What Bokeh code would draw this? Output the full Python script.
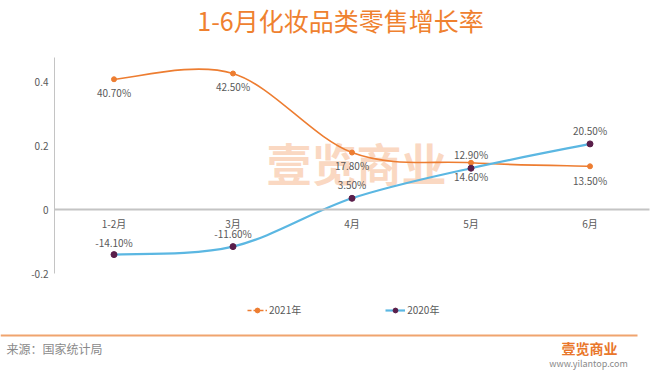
import math
from bokeh.plotting import figure
from bokeh.models import (ColumnDataSource, Range1d, FixedTicker, Label, LinearAxis,
                          BoxAnnotation, Legend, LegendItem)
from bokeh.core.properties import value
from bokeh.embed import file_html
from bokeh.resources import INLINE

# ---------------- data ----------------
months = ["1-2月", "3月", "4月", "5月", "6月"]
growth_2021 = [0.407, 0.425, 0.178, 0.146, 0.135]
growth_2020 = [-0.141, -0.116, 0.035, 0.129, 0.205]
labels_2021 = ["40.70%", "42.50%", "17.80%", "12.90%", "13.50%"]
labels_2020 = ["-14.10%", "-11.60%", "3.50%", "14.60%", "20.50%"]
y_ticks = [-0.2, 0.0, 0.2, 0.4]
y_tick_labels = ["-0.2", "0", "0.2", "0.4"]
series_names = ["2021年", "2020年"]

# ---------------- style ----------------
FONT = "Noto Sans CJK SC"
C21 = "#ED7D31"
C20 = "#5BB7E2"
M20 = "#5A1E4A"
TXT = "#595959"
off_2021 = [13, 13, 13, -8, 14]      # label offsets (px, +down)
off_2020 = [-12, -13, -14, 8, -13]

W, H = 656, 376
X0, CW = 54, 119          # pixel of category axis start, pixel width of one category
Y0, PPU = 209, 320        # pixel of value 0, pixels per unit
xpos = [i + 0.5 for i in range(len(months))]

p = figure(width=W, height=H,
           x_range=Range1d(-X0 / CW, (W - X0) / CW),
           y_range=Range1d((Y0 - H) / PPU, Y0 / PPU),
           x_axis_location=None, y_axis_location=None,
           output_backend="svg", toolbar_location=None,
           min_border_left=0, min_border_right=0, min_border_top=0, min_border_bottom=0)
p.grid.visible = False
p.outline_line_color = None
p.background_fill_color = "white"
p.border_fill_color = "white"

# axes (pinned inside the frame)
xa = LinearAxis(fixed_location=0, bounds=(0, len(months)))
xa.ticker = FixedTicker(ticks=xpos)
xa.major_label_overrides = {x: m for x, m in zip(xpos, months)}
xa.axis_line_color = "#C4C4C4"
xa.axis_line_width = 2
xa.major_tick_line_color = None
xa.minor_tick_line_color = None
xa.major_tick_out = 0
xa.major_label_text_font = FONT
xa.major_label_text_font_size = "10px"
xa.major_label_text_color = TXT
xa.major_label_standoff = 6
p.add_layout(xa, "below")

ya = LinearAxis(fixed_location=0, bounds=(-0.2, 0.475))
ya.ticker = FixedTicker(ticks=y_ticks)
ya.major_label_overrides = {t: s for t, s in zip(y_ticks, y_tick_labels)}
ya.axis_line_color = "#C4C4C4"
ya.axis_line_width = 1
ya.major_tick_line_color = None
ya.minor_tick_line_color = None
ya.major_tick_out = 0
ya.major_label_text_font = FONT
ya.major_label_text_font_size = "10px"
ya.major_label_text_color = TXT
ya.major_label_standoff = 6
p.add_layout(ya, "left")

# page pixel -> screen units (origin bottom-left of frame)
def sx(X):
    return X
def sy(Y):
    return H - Y

# watermark
p.add_layout(Label(x=sx(356), y=sy(162), x_units="screen", y_units="screen",
                   text="壹览商业", text_align="center", text_baseline="middle",
                   text_font=FONT, text_font_size="45px", text_font_style="bold",
                   text_color="#FAD8C2", text_alpha=1.0, level="underlay"))

# smooth curves (Catmull-Rom style bezier through the points)
def bezier_source(xs, ys):
    n = len(ys)
    d = dict(x0=[], y0=[], x1=[], y1=[], cx0=[], cy0=[], cx1=[], cy1=[])
    for i in range(n - 1):
        a = max(i - 1, 0)
        b = min(i + 2, n - 1)
        d["x0"].append(xs[i]); d["y0"].append(ys[i])
        d["x1"].append(xs[i + 1]); d["y1"].append(ys[i + 1])
        d["cx0"].append(xs[i] + (xs[i + 1] - xs[a]) / 6.0)
        d["cy0"].append(ys[i] + (ys[i + 1] - ys[a]) / 6.0)
        d["cx1"].append(xs[i + 1] - (xs[b] - xs[i]) / 6.0)
        d["cy1"].append(ys[i + 1] - (ys[b] - ys[i]) / 6.0)
    return ColumnDataSource(d)

p.bezier(x0="x0", y0="y0", x1="x1", y1="y1", cx0="cx0", cy0="cy0", cx1="cx1", cy1="cy1",
         source=bezier_source(xpos, growth_2021), line_color=C21, line_width=1.6)
p.bezier(x0="x0", y0="y0", x1="x1", y1="y1", cx0="cx0", cy0="cy0", cx1="cx1", cy1="cy1",
         source=bezier_source(xpos, growth_2020), line_color=C20, line_width=2.2)

s21 = ColumnDataSource(dict(x=xpos, y=growth_2021, t=labels_2021, off=off_2021))
s20 = ColumnDataSource(dict(x=xpos, y=growth_2020, t=labels_2020, off=off_2020))
p.scatter(x="x", y="y", source=s21, size=5, fill_color=C21, line_color=C21)
p.scatter(x="x", y="y", source=s20, size=6, fill_color=M20, line_color=M20)
for s in (s21, s20):
    p.text(x="x", y="y", text="t", y_offset="off", source=s,
           text_font=value(FONT), text_font_size="10px", text_color=TXT,
           text_align="center", text_baseline="middle")

# legend (placeholder renderers carry the glyph styling)
nan = [math.nan]
l21 = p.line(x=nan, y=nan, line_color=C21, line_width=1.6, line_dash="4 2")
d21 = p.scatter(x=nan, y=nan, size=4, fill_color=C21, line_color=C21)
l20 = p.line(x=nan, y=nan, line_color=C20, line_width=2.2)
d20 = p.scatter(x=nan, y=nan, size=5, fill_color=M20, line_color=M20)
legend = Legend(items=[LegendItem(label=series_names[0], renderers=[l21, d21]),
                       LegendItem(label=series_names[1], renderers=[l20, d20])],
                orientation="horizontal", location=(sx(247), sy(317)),
                spacing=84, padding=0, margin=0, border_line_color=None,
                background_fill_alpha=0, glyph_width=20, glyph_height=12,
                label_height=12, label_standoff=2,
                label_text_font=FONT, label_text_font_size="10px",
                label_text_color=TXT)
p.add_layout(legend)

# title
p.add_layout(Label(x=sx(340), y=sy(19), x_units="screen", y_units="screen",
                   text="1-6月化妆品类零售增长率", text_align="center", text_baseline="middle",
                   text_font=FONT, text_font_size="25px", text_color="#EF812F"))

# footer
p.add_layout(BoxAnnotation(left=sx(0), right=sx(637), top=sy(334), bottom=sy(336),
                           left_units="screen", right_units="screen",
                           top_units="screen", bottom_units="screen",
                           fill_color="#F0A46E", fill_alpha=1.0, line_color=None))
p.add_layout(Label(x=sx(6), y=sy(348), x_units="screen", y_units="screen",
                   text="来源：国家统计局", text_align="left", text_baseline="middle",
                   text_font=FONT, text_font_size="12px", text_color="#8A8A8A"))
p.add_layout(Label(x=sx(589), y=sy(347), x_units="screen", y_units="screen",
                   text="壹览商业", text_align="center", text_baseline="middle",
                   text_font=FONT, text_font_size="14px", text_font_style="bold",
                   text_color="#E9772B"))
p.add_layout(Label(x=sx(588), y=sy(363), x_units="screen", y_units="screen",
                   text="www.yilantop.com", text_align="center", text_baseline="middle",
                   text_font=FONT, text_font_size="9px", text_color="#8A8A8A"))

open("out.html", "w").write(file_html(p, INLINE))
